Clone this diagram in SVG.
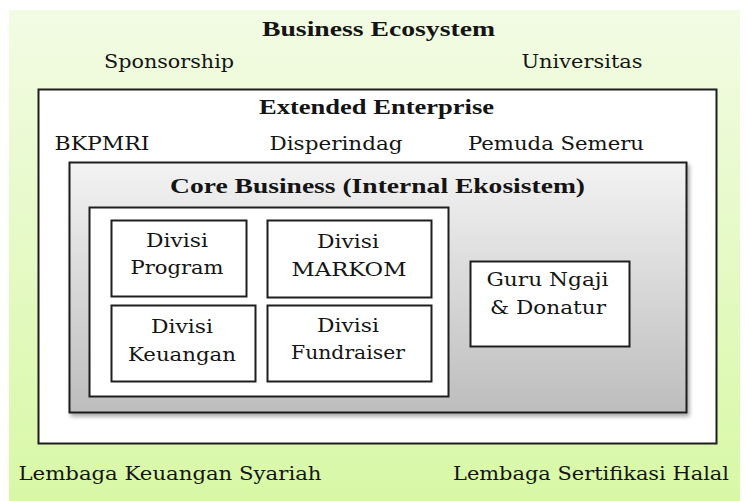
<svg xmlns="http://www.w3.org/2000/svg" width="745" height="501" viewBox="0 0 745 501">
  <defs>
    <linearGradient id="ecoFill" x1="0" y1="0" x2="0" y2="1">
      <stop offset="0" stop-color="#f2fbe4"/>
      <stop offset="1" stop-color="#d8f8a6"/>
    </linearGradient>
    <linearGradient id="coreFill" x1="0" y1="0" x2="0" y2="1">
      <stop offset="0" stop-color="#f3f3f3"/>
      <stop offset="1" stop-color="#bdbdbd"/>
    </linearGradient>
    <filter id="softShadow" x="-5%" y="-5%" width="115%" height="115%">
      <feGaussianBlur in="SourceAlpha" stdDeviation="2"/>
      <feOffset dx="2" dy="3" result="blur"/>
      <feComponentTransfer><feFuncA type="linear" slope="0.35"/></feComponentTransfer>
      <feMerge><feMergeNode/><feMergeNode in="SourceGraphic"/></feMerge>
    </filter>
    <style>
      text { fill: #141414; text-anchor: middle; }
      .title { font-family: "Liberation Serif", serif; font-size: 21px; font-weight: bold; }
      .label { font-family: "DejaVu Serif", serif; font-size: 18px; }
      .box { fill: #ffffff; stroke: #1e1e1e; stroke-width: 2; }
    </style>
  </defs>

  <!-- outer ecosystem layer -->
  <g id="business-ecosystem">
    <rect x="9" y="10" width="731" height="491" fill="url(#ecoFill)"/>
    <text class="title" x="378.5" y="36" textLength="233" lengthAdjust="spacingAndGlyphs">Business Ecosystem</text>
    <text class="label" x="169" y="68" textLength="130" lengthAdjust="spacingAndGlyphs">Sponsorship</text>
    <text class="label" x="582" y="68" textLength="121" lengthAdjust="spacingAndGlyphs">Universitas</text>
    <text class="label" x="170" y="480" textLength="303" lengthAdjust="spacingAndGlyphs">Lembaga Keuangan Syariah</text>
    <text class="label" x="591" y="480" textLength="276" lengthAdjust="spacingAndGlyphs">Lembaga Sertifikasi Halal</text>
  </g>

  <!-- extended enterprise layer -->
  <g id="extended-enterprise">
    <rect class="box" x="38.5" y="89.5" width="678" height="354"/>
    <text class="title" x="376.5" y="114" textLength="235" lengthAdjust="spacingAndGlyphs">Extended Enterprise</text>
    <text class="label" x="102" y="150" textLength="95" lengthAdjust="spacingAndGlyphs">BKPMRI</text>
    <text class="label" x="336" y="150" textLength="133" lengthAdjust="spacingAndGlyphs">Disperindag</text>
    <text class="label" x="556" y="150" textLength="176" lengthAdjust="spacingAndGlyphs">Pemuda Semeru</text>
  </g>

  <!-- core business layer -->
  <g id="core-business">
    <rect x="69.5" y="162.5" width="617" height="250" fill="url(#coreFill)" stroke="#1e1e1e" stroke-width="2" filter="url(#softShadow)"/>
    <text class="title" x="377.5" y="193" textLength="415" lengthAdjust="spacingAndGlyphs">Core Business (Internal Ekosistem)</text>
  </g>

  <g id="divisions">
    <rect class="box" x="89.5" y="207.5" width="359" height="189"/>
  </g>

  <g id="divisi-program">
    <rect class="box" x="111.5" y="220.5" width="135" height="76"/>
    <text class="label" x="177" y="247" textLength="62" lengthAdjust="spacingAndGlyphs">Divisi</text>
    <text class="label" x="177" y="274" textLength="93" lengthAdjust="spacingAndGlyphs">Program</text>
  </g>

  <g id="divisi-markom">
    <rect class="box" x="267.5" y="220.5" width="164" height="77"/>
    <text class="label" x="348" y="248" textLength="62" lengthAdjust="spacingAndGlyphs">Divisi</text>
    <text class="label" x="349" y="276" textLength="115" lengthAdjust="spacingAndGlyphs">MARKOM</text>
  </g>

  <g id="divisi-keuangan">
    <rect class="box" x="111.5" y="305.5" width="144" height="76"/>
    <text class="label" x="182" y="333" textLength="62" lengthAdjust="spacingAndGlyphs">Divisi</text>
    <text class="label" x="182" y="361" textLength="108" lengthAdjust="spacingAndGlyphs">Keuangan</text>
  </g>

  <g id="divisi-fundraiser">
    <rect class="box" x="267.5" y="305.5" width="164" height="76"/>
    <text class="label" x="348" y="332" textLength="62" lengthAdjust="spacingAndGlyphs">Divisi</text>
    <text class="label" x="348" y="359" textLength="114" lengthAdjust="spacingAndGlyphs">Fundraiser</text>
  </g>

  <g id="guru-ngaji-donatur">
    <rect class="box" x="470.5" y="261.5" width="159" height="85"/>
    <text class="label" x="547.5" y="286" textLength="122" lengthAdjust="spacingAndGlyphs">Guru Ngaji</text>
    <text class="label" x="548" y="314" textLength="116" lengthAdjust="spacingAndGlyphs">&amp; Donatur</text>
  </g>
</svg>
